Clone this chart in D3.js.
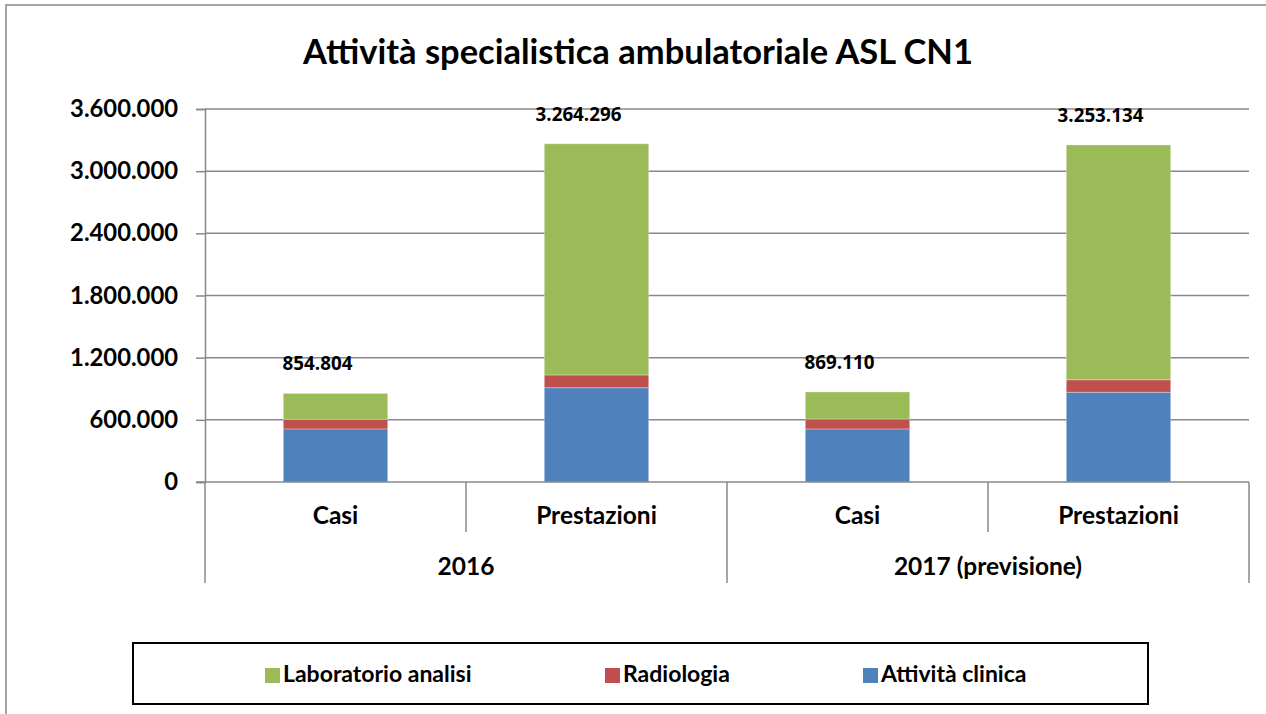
<!DOCTYPE html>
<html>
<head>
<meta charset="utf-8">
<script src="https://cdn.jsdelivr.net/npm/d3@7"></script>
<style>
  body { margin: 0; background: #fff; }
  svg text { font-family: Lato, "Open Sans", sans-serif; font-weight: bold; fill: #000; }
</style>
</head>
<body>
<div id="chart"></div>
<script>
  // dati
  var categorie = ["Casi", "Prestazioni", "Casi", "Prestazioni"];
  var anni = ["2016", "2017 (previsione)"];
  var attivitaClinica = [512000, 910000, 512000, 866000];
  var radiologia = [93000, 123000, 96000, 121000];
  var laboratorio = [249804, 2231296, 261110, 2266134];
  var totali = [854804, 3264296, 869110, 3253134];
  var yTicks = [0, 600000, 1200000, 1800000, 2400000, 3000000, 3600000];

  var serie = [
    { key: "clinica", nome: "Attività clinica", colore: "#4F81BD", valori: attivitaClinica },
    { key: "radiologia", nome: "Radiologia", colore: "#C0504D", valori: radiologia },
    { key: "laboratorio", nome: "Laboratorio analisi", colore: "#9BBB59", valori: laboratorio }
  ];

  var rows = categorie.map(function (c, i) {
    var r = { id: i, cat: c, totale: totali[i] };
    serie.forEach(function (s) { r[s.key] = s.valori[i]; });
    return r;
  });

  var W = 1266, H = 714;
  var pLeft = 205, pRight = 1249, pTop = 109, pBottom = 482;

  var svg = d3.select("#chart").append("svg").attr("width", W).attr("height", H);

  var it = d3.formatLocale({ decimal: ",", thousands: ".", grouping: [3], currency: ["€", ""] });
  var fmt = it.format(",d");

  var x = d3.scaleBand().domain(rows.map(function (d) { return d.id; }))
    .range([pLeft, pRight]).paddingInner(0.6).paddingOuter(0.3);
  var y = d3.scaleLinear().domain([0, 3600000]).range([pBottom, pTop]);

  // bordo esterno
  svg.append("rect").attr("x", 6).attr("y", 5).attr("width", W + 20).attr("height", H + 20)
    .attr("fill", "none").attr("stroke", "#888").attr("stroke-width", 1.5);

  // titolo
  svg.append("text").attr("x", 638).attr("y", 64).attr("text-anchor", "middle")
    .style("font-size", "34.5px").text("Attività specialistica ambulatoriale ASL CN1");

  // griglia
  svg.append("g").selectAll("line").data(yTicks.slice(1)).enter().append("line")
    .attr("x1", pLeft).attr("x2", pRight)
    .attr("y1", function (d) { return y(d); }).attr("y2", function (d) { return y(d); })
    .attr("stroke", "#888").attr("stroke-width", 1.5);

  // asse y
  var yAxis = svg.append("g").attr("transform", "translate(" + pLeft + ",0)")
    .call(d3.axisLeft(y).tickValues(yTicks).tickFormat(fmt).tickSize(9).tickPadding(18));
  yAxis.select(".domain").attr("stroke", "#888").attr("stroke-width", 1.5);
  yAxis.selectAll(".tick line").attr("stroke", "#888").attr("stroke-width", 1.5);
  yAxis.selectAll(".tick text").style("font-size", "23.8px").style("font-family", "Lato").attr("fill", "#000");

  // barre impilate
  var stack = d3.stack().keys(serie.map(function (s) { return s.key; }));
  var strati = stack(rows);
  svg.append("g").selectAll("g").data(strati).enter().append("g")
    .attr("fill", function (d, i) { return serie[i].colore; })
    .selectAll("rect").data(function (d) { return d; }).enter().append("rect")
    .attr("x", function (d) { return x(d.data.id); })
    .attr("width", x.bandwidth())
    .attr("y", function (d) { return y(d[1]); })
    .attr("height", function (d) { return y(d[0]) - y(d[1]); })
    .attr("stroke", "rgba(255,255,255,0.3)").attr("stroke-width", 1);

  // etichette totali
  svg.append("g").selectAll("text").data(rows).enter().append("text")
    .attr("x", function (d) { return x(d.id) + x.bandwidth() / 2 - 18; })
    .attr("y", function (d) { return y(d.totale) - 23; })
    .attr("text-anchor", "middle")
    .style("font-family", "'Open Sans'").style("font-size", "18.8px")
    .text(function (d) { return fmt(d.totale); });

  // asse categorie
  var ax = svg.append("g").attr("stroke", "#888").attr("stroke-width", 1.5);
  ax.append("line").attr("x1", pLeft - 9).attr("x2", pRight).attr("y1", pBottom).attr("y2", pBottom);
  var step = x.step();
  var seps = d3.range(5).map(function (i) { return pLeft + i * step; });
  ax.selectAll(".sep").data(seps).enter().append("line")
    .attr("x1", function (d) { return d; }).attr("x2", function (d) { return d; })
    .attr("y1", pBottom)
    .attr("y2", function (d, i) { return i % 2 === 0 ? pBottom + 101 : pBottom + 50; });

  svg.append("g").selectAll("text").data(rows).enter().append("text")
    .attr("x", function (d) { return x(d.id) + x.bandwidth() / 2; })
    .attr("y", 524).attr("text-anchor", "middle").style("font-size", "24.5px")
    .text(function (d) { return d.cat; });

  svg.append("g").selectAll("text").data(anni).enter().append("text")
    .attr("x", function (d, i) { return pLeft + step * (2 * i + 1); })
    .attr("y", 575).attr("text-anchor", "middle").style("font-size", "24.5px")
    .text(function (d) { return d; });

  // legenda
  svg.append("rect").attr("x", 133).attr("y", 643).attr("width", 1015).attr("height", 61)
    .attr("fill", "none").attr("stroke", "#000").attr("stroke-width", 2);
  var legPos = [265, 605, 863];
  var leg = svg.append("g").selectAll("g").data(serie.slice().reverse()).enter().append("g")
    .attr("transform", function (d, i) { return "translate(" + legPos[i] + ",0)"; });
  leg.append("rect").attr("x", 0).attr("y", 668).attr("width", 15).attr("height", 15)
    .attr("fill", function (d) { return d.colore; });
  leg.append("text").attr("x", 18).attr("y", 682).style("font-size", "23px")
    .text(function (d) { return d.nome; });
</script>
</body>
</html>
